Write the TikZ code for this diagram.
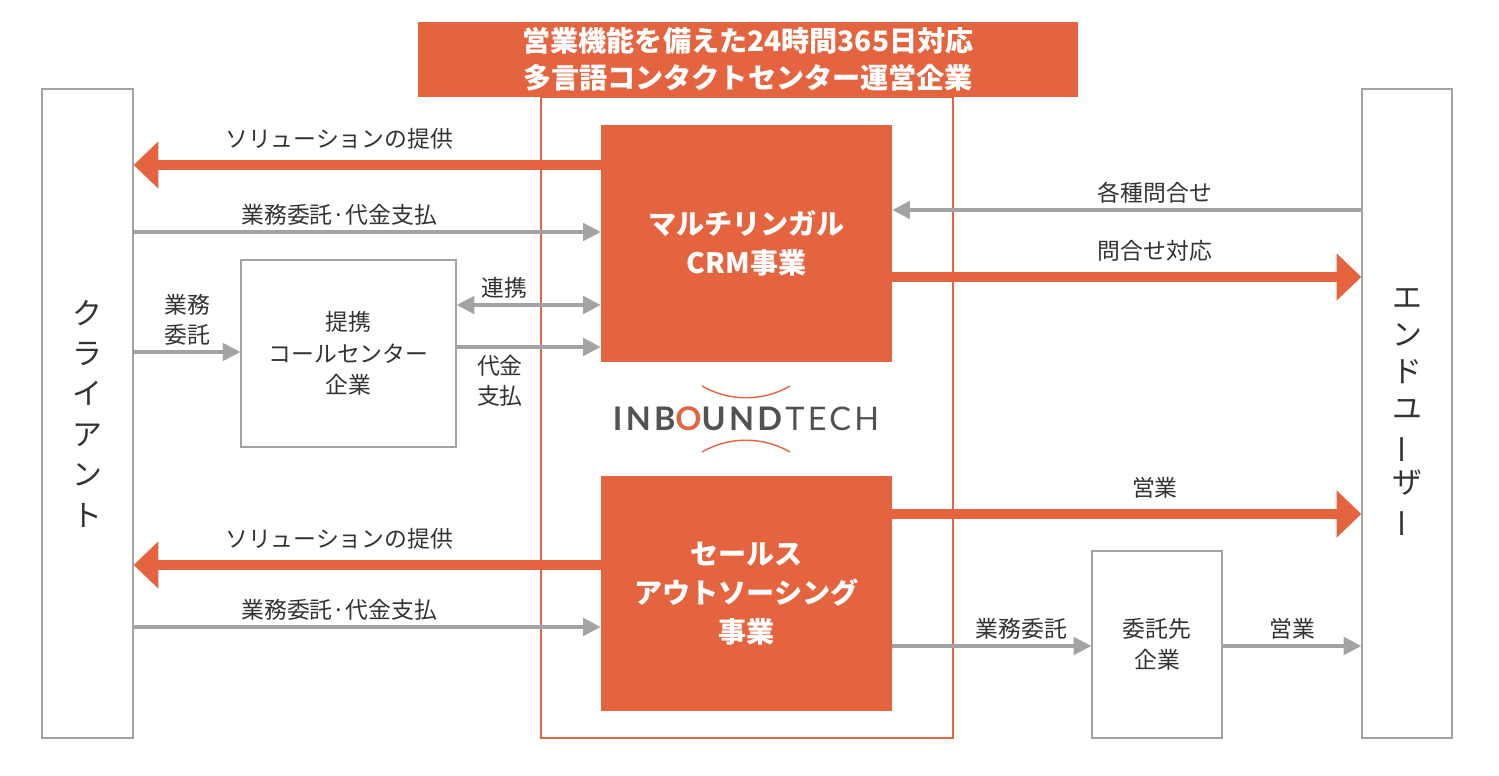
\documentclass[tikz,border=0pt]{standalone}
\usepackage{fontspec}
\setmainfont{Noto Sans CJK JP}
\newfontfamily\logofont[LetterSpace=10]{Lato}
\usetikzlibrary{arrows.meta}
\definecolor{ibOrange}{HTML}{E4643F}
\definecolor{ibGray}{HTML}{A3A3A3}
\definecolor{ibText}{HTML}{333333}
\tikzset{
  orangebox/.style={fill=ibOrange,draw=none,text=white,font=\fontsize{16}{22}\selectfont\bfseries,align=center,inner sep=0},
  graybox/.style={draw=ibGray,line width=0.8pt,text=ibText,font=\fontsize{13}{18}\selectfont,align=center,inner sep=0},
  thin arrow/.style={draw=ibGray,line width=1.8pt,-{Triangle[length=10pt,width=10pt]}},
  thick arrow/.style={draw=ibOrange,line width=5.5pt,-{Triangle[length=14pt,width=26pt]}},
  lbl/.style={text=ibText,font=\fontsize{13}{17}\selectfont,align=center,inner sep=1pt}
}
\newcommand{\tatebar}{\rotatebox[origin=c]{90}{ー}}
\begin{document}
\begin{tikzpicture}[x=0.02cm,y=-0.02cm]
\useasboundingbox (0,0) rectangle (1499,776);
% frame of the company
\draw[ibOrange,line width=1.2pt] (541,97) rectangle (953,738);
\node[orangebox,minimum width=13.2cm,minimum height=1.5cm,font=\fontsize{16}{21}\selectfont\bfseries] (title) at (748,59.5) {営業機能を備えた24時間365日対応\\多言語コンタクトセンター運営企業};
% side boxes
\node[graybox,minimum width=1.82cm,minimum height=12.98cm,font=\fontsize{17}{23}\selectfont] (client) at (87.5,413.5) {ク\\ラ\\イ\\ア\\ン\\ト};
\node[graybox,minimum width=1.8cm,minimum height=12.98cm,font=\fontsize{17}{21}\selectfont] (user) at (1407,413.5) {エ\\ン\\ド\\ユ\\\tatebar\\ザ\\\tatebar};
% business units
\node[orangebox,minimum width=5.82cm,minimum height=4.74cm] (crm) at (746.5,243.5) {マルチリンガル\\CRM事業};
\node[orangebox,minimum width=5.82cm,minimum height=4.7cm] (sales) at (746.5,593.5) {セールス\\アウトソーシング\\事業};
\node[graybox,minimum width=4.3cm,minimum height=3.74cm] (partner) at (348.5,353.5) {提携\\コールセンター\\企業};
\node[graybox,minimum width=2.6cm,minimum height=3.74cm] (contractor) at (1157,644.5) {委託先\\企業};
% logo
\node[inner sep=0,text=ibText!85!white] (logo) at (746,419) {\logofont\fontsize{18.5}{19}\selectfont\textbf{INB\textcolor{ibOrange}{O}UND}TECH};
\draw[ibOrange,line width=0.8pt] (702,386) arc[start angle=120,end angle=60,radius=88];
\draw[ibOrange,line width=0.8pt] (702,452) arc[start angle=-120,end angle=-60,radius=88];
% CRM flows
\draw[thick arrow] (crm.west |- 0,165) -- (client.east |- 0,165) node[lbl,pos=0.56,above=5pt] {ソリューションの提供};
\draw[thin arrow] (client.east |- 0,232) -- (crm.west |- 0,232) node[lbl,pos=0.44,above=2pt] {業務委託·代金支払};
\draw[thin arrow] (user.west |- 0,210) -- (crm.east |- 0,210) node[lbl,pos=0.44,above=2pt] {各種問合せ};
\draw[thick arrow] (crm.east |- 0,277) -- (user.west |- 0,277) node[lbl,pos=0.56,above=5pt] {問合せ対応};
\draw[draw=ibGray,line width=1.8pt,{Triangle[length=10pt,width=10pt]}-{Triangle[length=10pt,width=10pt]}] (partner.east |- 0,305) -- (crm.west |- 0,305) node[lbl,midway,above=2pt,xshift=-14pt] {連携};
\draw[thin arrow] (partner.east |- 0,347) -- (crm.west |- 0,347) node[lbl,pos=0.3,below=3pt] {代金\\支払};
\draw[thin arrow] (client.east |- 0,352) -- (partner.west |- 0,352) node[lbl,midway,above=2pt] {業務\\委託};
% sales flows
\draw[thick arrow] (sales.west |- 0,565) -- (client.east |- 0,565) node[lbl,pos=0.56,above=5pt] {ソリューションの提供};
\draw[thin arrow] (client.east |- 0,627) -- (sales.west |- 0,627) node[lbl,pos=0.44,above=2pt] {業務委託·代金支払};
\draw[thick arrow] (sales.east |- 0,514) -- (user.west |- 0,514) node[lbl,pos=0.56,above=5pt] {営業};
\draw[thin arrow] (sales.east |- 0,646) -- (contractor.west |- 0,646) node[lbl,pos=0.65,above=2pt] {業務委託};
\draw[thin arrow] (contractor.east |- 0,646) -- (user.west |- 0,646) node[lbl,midway,above=2pt] {営業};
\end{tikzpicture}
\end{document}
